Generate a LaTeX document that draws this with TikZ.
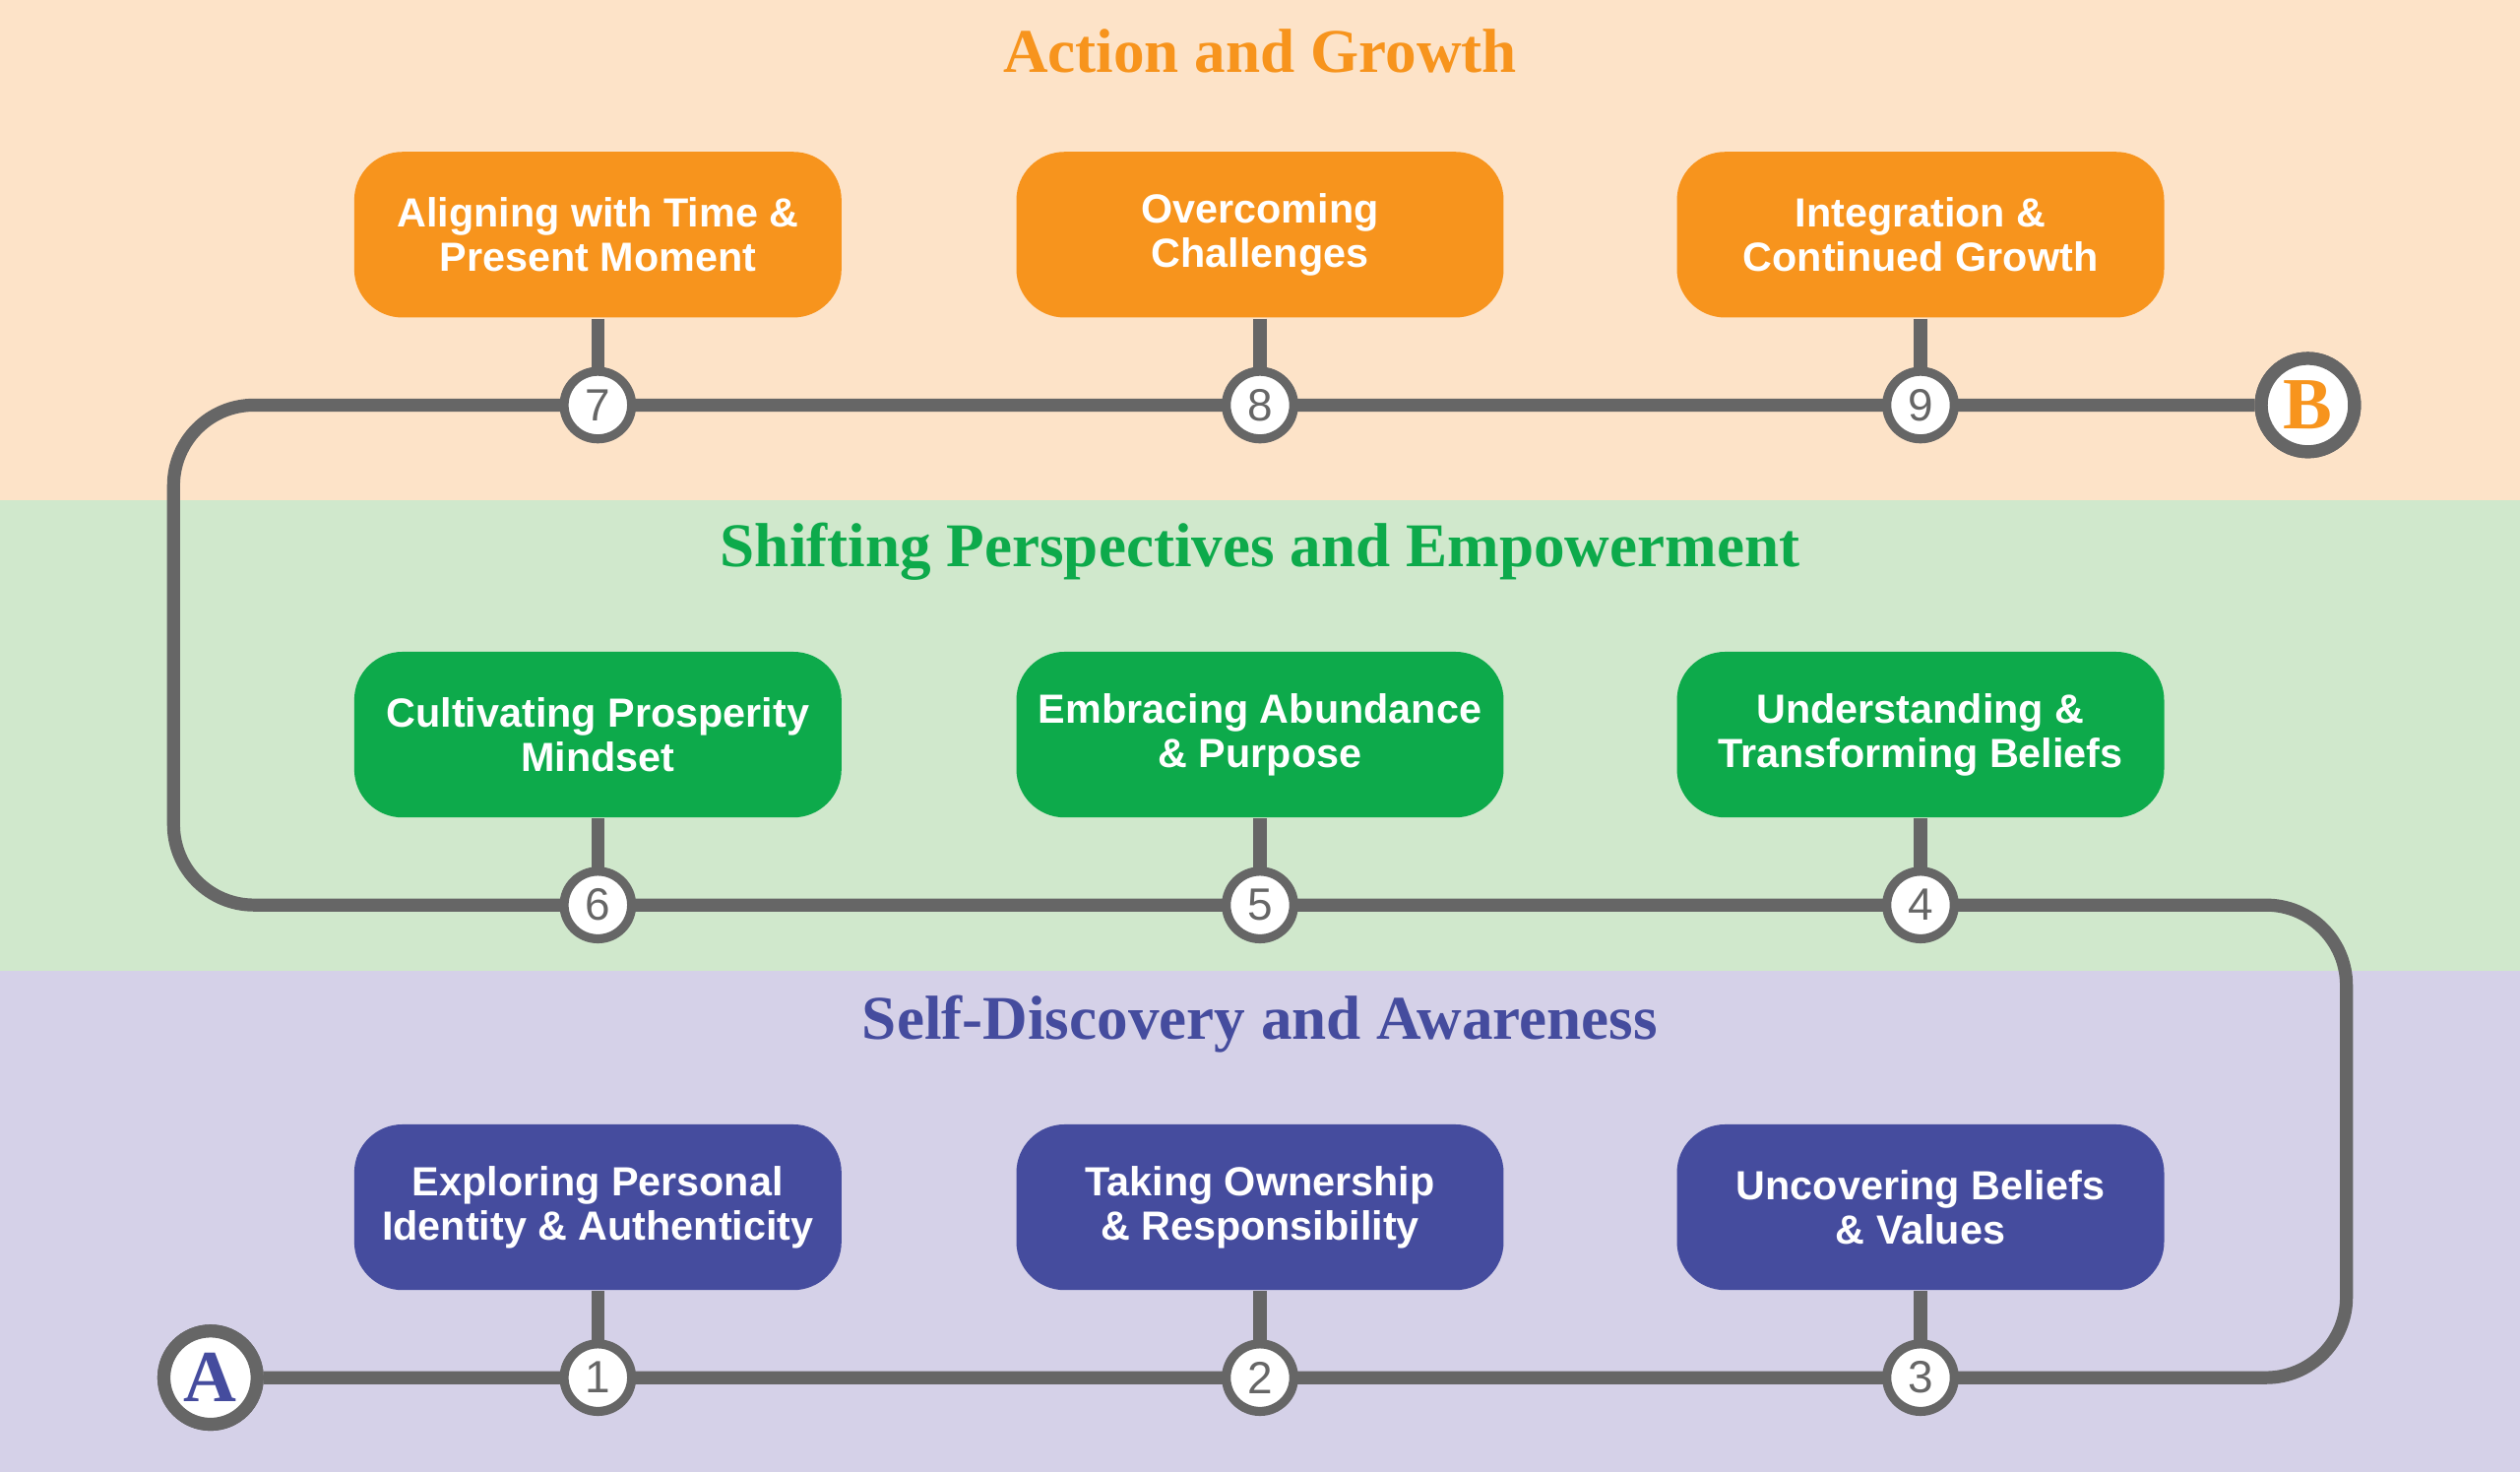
\documentclass[tikz,border=0pt]{standalone}
\usepackage{fontspec}
\setmainfont{Liberation Sans}
\newfontfamily\titlefont{Liberation Serif}
\begin{document}
\begin{tikzpicture}[x=0.01cm,y=-0.01cm,
  box/.style={rounded corners=0.3cm,minimum width=3.03cm,minimum height=1.03cm,text=white,font=\fontsize{7.2}{7.8}\selectfont\bfseries,align=center,inner sep=0pt},
  stem/.style={line width=2.3pt,draw=lg},
  num/.style={circle,draw=lg,line width=1.6pt,fill=white,minimum size=0.42cm,inner sep=0pt,font=\fontsize{8}{8}\selectfont,text=lg},
  ep/.style={circle,draw=lg,line width=2.3pt,fill=white,minimum size=0.58cm,inner sep=0pt,font=\titlefont\bfseries\fontsize{13}{13}\selectfont},
  ttl/.style={font=\titlefont\bfseries\fontsize{11}{11}\selectfont}]
\definecolor{bgo}{HTML}{FDE3C8}\definecolor{bgg}{HTML}{D0E8CC}\definecolor{bgp}{HTML}{D5D1E8}
\definecolor{co}{HTML}{F7941D}\definecolor{cg}{HTML}{0DAA4B}\definecolor{cp}{HTML}{454C9E}
\definecolor{lg}{HTML}{666666}
\fill[bgo] (0,0) rectangle (1568,311);
\fill[bgg] (0,311) rectangle (1568,604);
\fill[bgp] (0,604) rectangle (1568,916);
\useasboundingbox (0,0) rectangle (1568,916);
\node[ttl,text=co] (t1) at (784,32) {Action and Growth};
\node[ttl,text=cg] (t2) at (784,343) {Shifting Perspectives and Empowerment};
\node[ttl,text=cp] (t3) at (784,637) {Self-Discovery and Awareness};
% path
\coordinate (p1) at (1460,857); \coordinate (p2) at (1460,563);
\coordinate (p3) at (108,563); \coordinate (p4) at (108,252);
\node[ep,text=cp] (A) at (131,857) {A};
\node[ep,text=co] (B) at (1436,252) {B};
\begin{scope}[on background layer/.style={}]
\draw[lg,line width=2.3pt,rounded corners=0.5cm] (A.east) -- (p1) -- (p2) -- (p3) -- (p4) -- (B.west);
\end{scope}
% boxes
\node[box,fill=co] (b7) at (372,146) {Aligning with Time \&\\Present Moment};
\node[box,fill=co] (b8) at (784,146) {Overcoming\\Challenges};
\node[box,fill=co] (b9) at (1195,146) {Integration \&\\Continued Growth};
\node[box,fill=cg] (b6) at (372,457) {Cultivating Prosperity\\Mindset};
\node[box,fill=cg] (b5) at (784,457) {Embracing Abundance\\\& Purpose};
\node[box,fill=cg] (b4) at (1195,457) {Understanding \&\\Transforming Beliefs};
\node[box,fill=cp] (b1) at (372,751) {Exploring Personal\\Identity \& Authenticity};
\node[box,fill=cp] (b2) at (784,751) {Taking Ownership\\\& Responsibility};
\node[box,fill=cp] (b3) at (1195,751) {Uncovering Beliefs\\\& Values};
\foreach \n/\x/\y in {7/372/252,8/784/252,9/1195/252,6/372/563,5/784/563,4/1195/563,1/372/857,2/784/857,3/1195/857}{
  \draw[stem] (b\n.south) -- (\x,\y);
  \node[num] (n\n) at (\x,\y) {\n};
}
\node[ep,text=cp] at (A) {A};
\node[ep,text=co] at (B) {B};
\end{tikzpicture}
\end{document}
